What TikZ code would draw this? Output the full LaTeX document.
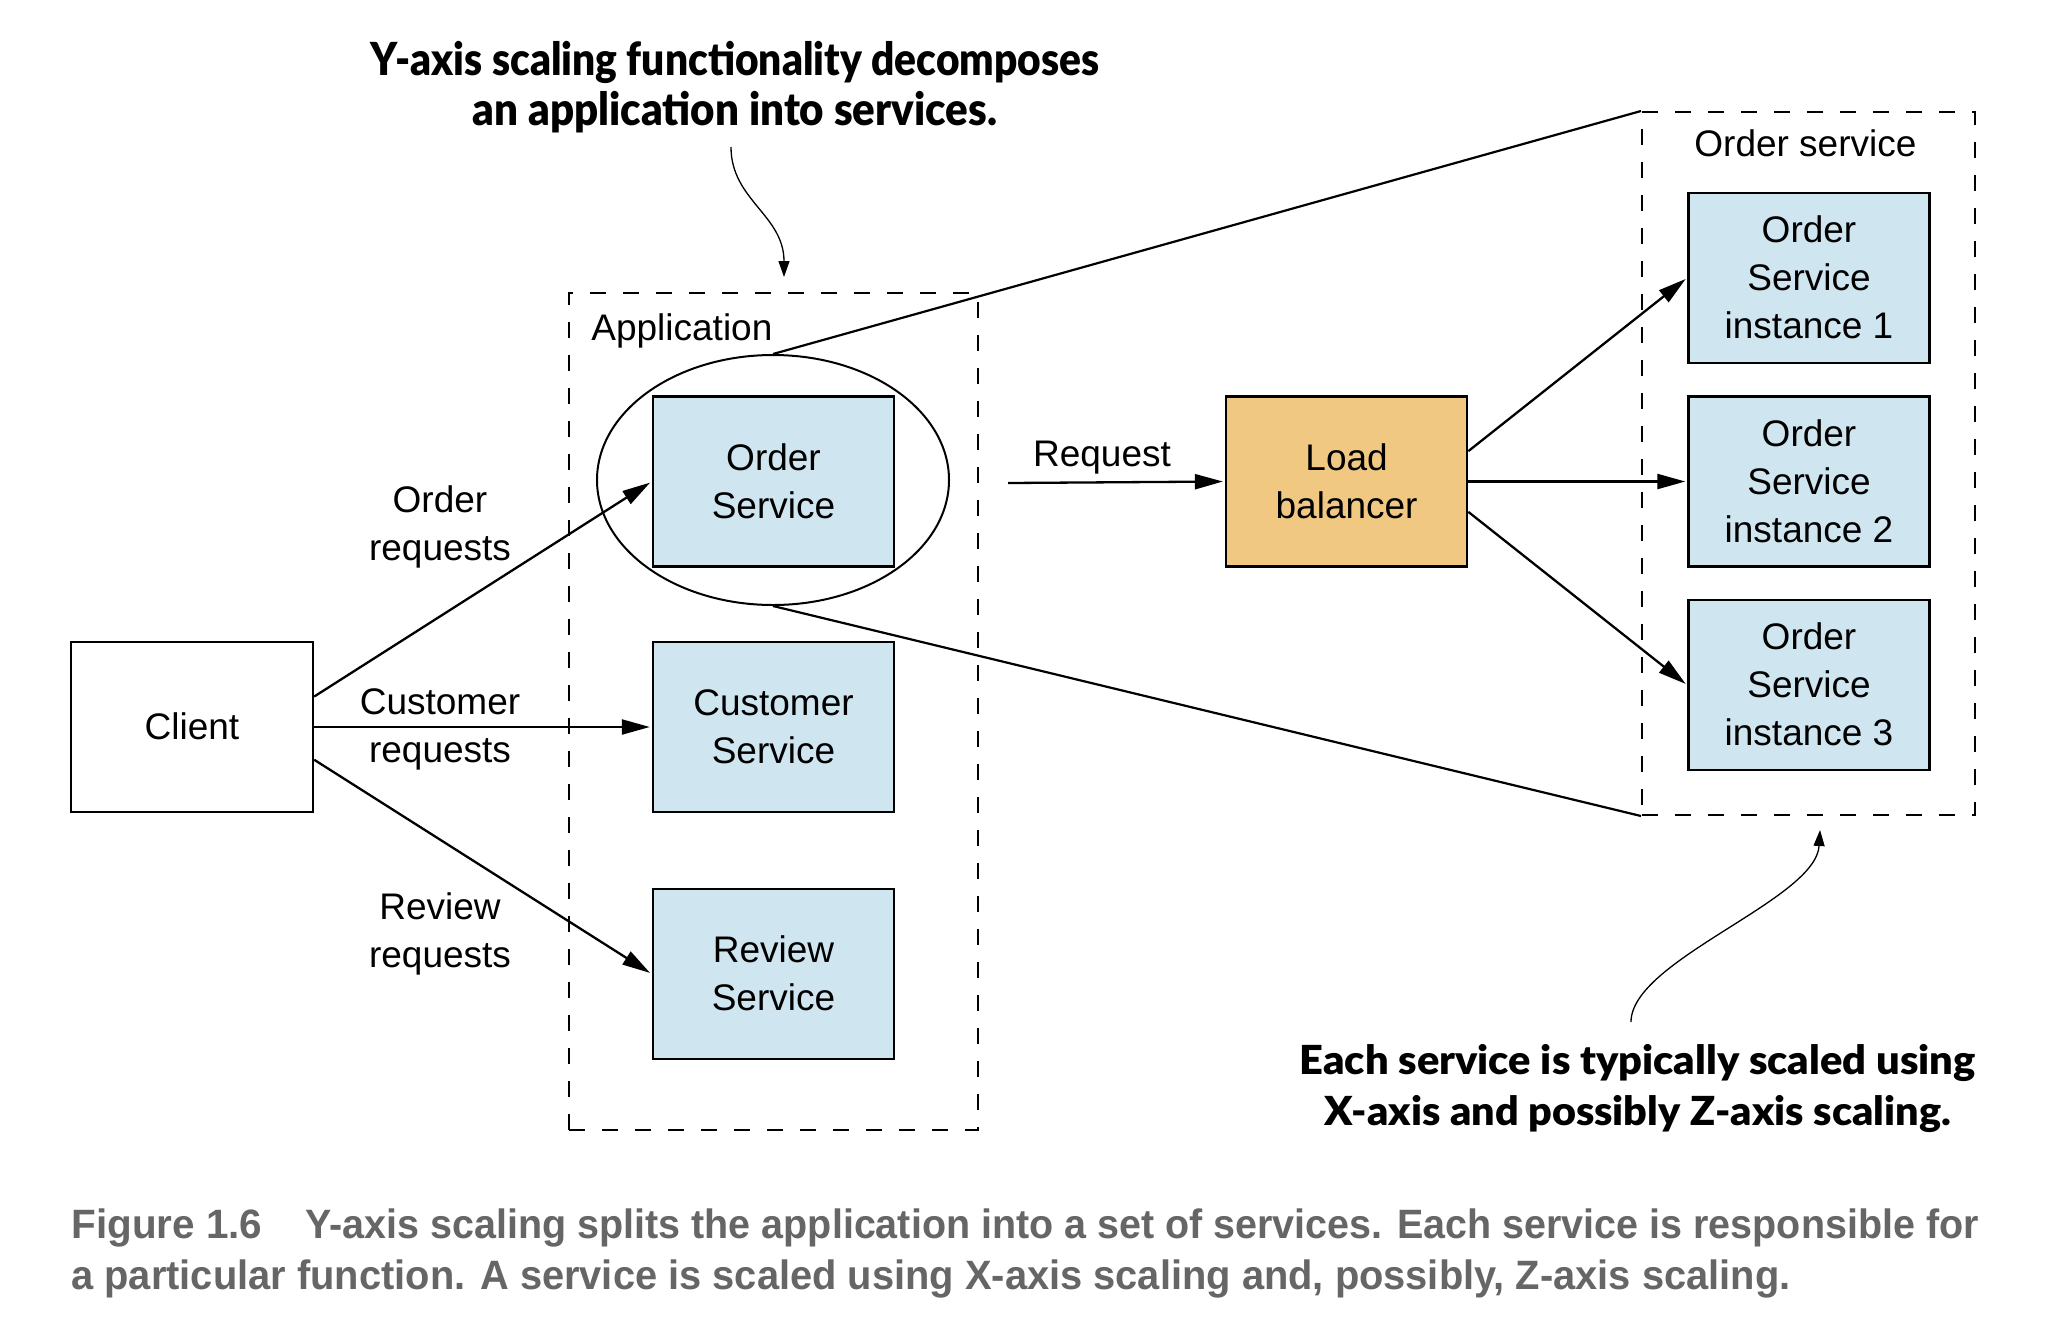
\documentclass[tikz,border=0pt]{standalone}
\usepackage{graphicx}
\usepackage{fontspec}
\setmainfont{Liberation Sans}
\newfontfamily\annfont{Lato}[BoldFont={Lato Black}]
\newfontfamily\capfont{Liberation Sans}
\usetikzlibrary{shapes.geometric,arrows.meta}
\definecolor{svcblue}{RGB}{207,229,239}
\definecolor{lborange}{RGB}{240,200,130}
\definecolor{capgrey}{RGB}{102,102,102}
\newcommand\ts{\rule{0pt}{19.8pt}}
\begin{document}
\begin{tikzpicture}[x=0.5pt,y=-0.5pt,
  lbl/.style={font=\fontsize{18.5pt}{24pt}\selectfont, align=center, inner sep=0pt,
    execute at end node=\strut},
  box/.style={lbl, draw, line width=1.2pt, minimum width=120.5pt, minimum height=85pt},
  svc/.style={box, fill=svcblue},
  inst/.style={svc},
  grp/.style={draw, line width=1pt, dash pattern=on 8pt off 8.5pt, inner sep=0pt},
  arr/.style={line width=1.15pt, shorten >=1pt, -{Triangle[length=14pt,width=7.5pt]}},
  link/.style={line width=1.1pt},
  note/.style={line width=0.65pt, -{Triangle[length=8pt,width=5.5pt]}},
  ann/.style={font=\annfont\bfseries\fontsize{20pt}{25.3pt}\selectfont, align=center, inner sep=0pt,
    execute at begin node=\strut, execute at end node=\strut},
]
\fill[white] (0,0) rectangle (2052,1340);
\useasboundingbox (0,0) rectangle (2052,1340);

% group frames
\node[grp, minimum width=204.25pt, minimum height=418.5pt] (app) at (773.25,711.5) {};
\node[grp, minimum width=166.5pt, minimum height=351.5pt] (osg) at (1808.5,463.5) {};
\node[lbl, anchor=base west] (applbl) at (591,340) {Application};
\node[lbl, anchor=base west] (oslbl) at (1694,156.5) {Order service};

% ellipse around Order Service
\node[draw, ellipse, line width=1pt, minimum width=176pt, minimum height=125pt, inner sep=0pt] (ell) at (773,480) {};

% boxes
\node[box, fill=white, minimum width=121pt] (client) at (192,727) {\ts Client};
\node[svc] (ordsvc) at (773.5,481.5) {\ts Order\\Service};
\node[svc] (custsvc) at (773.5,727) {\ts Customer\\Service};
\node[svc] (revsvc) at (773.5,974) {\ts Review\\Service};
\node[box, fill=lborange] (lb) at (1346.6,481.5) {\ts Load\\balancer};
\node[inst] (i1) at (1809,277.7) {\ts Order\\Service\\instance 1};
\node[inst] (i2) at (1809,481.5) {\ts Order\\Service\\instance 2};
\node[inst] (i3) at (1809,685.2) {\ts Order\\Service\\instance 3};

% labels
\node[lbl] (lo) at (440,523.4) {\ts Order\\requests};
\node[lbl] (lc) at (440,725.6) {\ts Customer\\requests};
\node[lbl] (lr) at (440,931) {\ts Review\\requests};
\node[lbl, anchor=base] (lreq) at (1102,466.6) {Request};

% connectors
\draw[arr] (client.14.4) -- (ordsvc.west);
\draw[arr] (client.east) -- (custsvc.west);
\draw[arr] (client.-15.7) -- (revsvc.west);
\coordinate (reqs) at (1008,483);
\draw[arr] (reqs) -- (lb.west);
\draw[arr] (lb.14.8) -- (i1.west);
\draw[arr] (lb.east) -- (i2.west);
\draw[arr] (lb.-14.8) -- (i3.west);
\draw[link] (ell.north) -- (osg.north west);
\draw[link] (ell.south) -- (osg.south west);

% annotations
\node[font=\annfont\bfseries\fontsize{22.75pt}{24.7pt}\selectfont, align=center, inner sep=0pt,
  execute at begin node=\strut, execute at end node=\strut] (ttl) at (735,90.7)
  {\resizebox{364.5pt}{\height}{Y-axis scaling functionality decomposes}\\
   \resizebox{262pt}{\height}{an application into services.}};
\coordinate (n1s) at (731,147);
\coordinate (n1e) at (784,277);
\draw[note] (n1s) .. controls (731,200) and (784,215) .. (n1e);

\node[ann] (bnote) at (1637.5,1092.5)
  {\resizebox{338pt}{\height}{Each service is typically scaled using}\\
   \resizebox{313.3pt}{\height}{X-axis and possibly Z-axis scaling.}};
\coordinate (n2s) at (1631,1022);
\coordinate (n2e) at (1820,830);
\draw[note] (n2s) .. controls (1631,960) and (1816,900) .. (n2e);

% caption
\node[font=\capfont\bfseries\fontsize{20.5pt}{25.8pt}\selectfont, text=capgrey, align=left, inner sep=0pt,
  anchor=west, execute at begin node=\strut, execute at end node=\strut] (cap) at (71,1257)
  {\resizebox{95.5pt}{\height}{Figure 1.6}\hspace{21.6pt}\resizebox{836.5pt}{\height}{Y-axis scaling splits the application into a set of services. Each service is responsible for}\\
   \resizebox{859.5pt}{\height}{a particular function. A service is scaled using X-axis scaling and, possibly, Z-axis scaling.}};
\end{tikzpicture}
\end{document}
